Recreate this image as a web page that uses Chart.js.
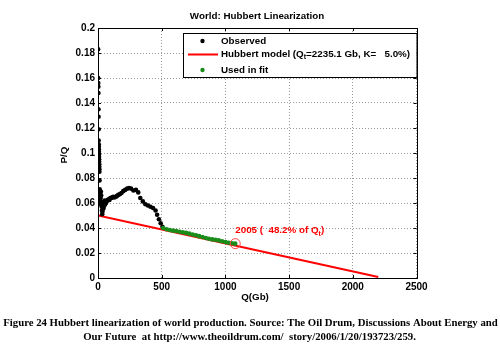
<!DOCTYPE html>
<html>
<head>
<meta charset="utf-8">
<script src="https://cdn.jsdelivr.net/npm/chart.js@4.4.1/dist/chart.umd.min.js"></script>
<style>
  html, body { margin: 0; padding: 0; background: #fff; }
  #wrap { width: 500px; height: 345px; position: relative; }
</style>
</head>
<body>
<div id="wrap"><canvas id="hubbert" width="500" height="345"></canvas></div>
<script>
// fitted model parameters
const qTotal = 2235.1;   // Gb
const kRate = 5.0;       // %
const share2005 = 48.2;  // % of Qt produced by 2005

// observed cumulative production Q (Gb) and P/Q, years before the fit window
const observedQ = [1, 1.5, 2, 2.5, 3, 3.5, 4, 4.5, 5, 5.5, 6, 6.5, 7, 7.5, 8, 8.5, 9, 9.5, 10, 10.5, 11,
  12, 13, 9, 15, 11, 14, 17, 19, 21, 23, 25, 27, 29, 31, 33, 35, 38, 41, 44, 47, 50, 53, 56, 59,
  62, 67, 72, 78, 84, 90, 97, 104, 112, 120, 129, 138, 148, 159, 171, 184, 198, 213, 229,
  244, 260, 278, 298, 316, 332, 352, 372, 392, 412, 432, 452, 464, 478, 492, 506];
const observedPQ = [0.183, 0.160, 0.156, 0.153, 0.148, 0.135, 0.129, 0.119, 0.110, 0.107, 0.105, 0.103, 0.101, 0.099, 0.097, 0.095, 0.093, 0.091, 0.089, 0.087, 0.085,
  0.078, 0.071, 0.069, 0.067, 0.064, 0.062, 0.061, 0.059, 0.064, 0.069, 0.066, 0.061, 0.057, 0.054, 0.051, 0.053, 0.055, 0.058, 0.056, 0.060, 0.058, 0.062, 0.059, 0.061,
  0.060, 0.061, 0.062, 0.0625, 0.063, 0.0625, 0.064, 0.064, 0.0645, 0.065, 0.0645, 0.065, 0.0655, 0.0665, 0.067, 0.068, 0.0695, 0.0705, 0.0715,
  0.072, 0.0715, 0.070, 0.0705, 0.0685, 0.064, 0.0613, 0.059, 0.058, 0.057, 0.056, 0.054, 0.0506, 0.047, 0.0438, 0.041];

// years used in the linear fit
const fitQ = [512, 538, 563, 589, 615, 640, 666, 692, 717, 743, 769, 794, 820, 846, 871, 897, 923, 948, 974, 1000, 1025, 1051, qTotal * share2005 / 100];
const fitPQ = [0.0400, 0.0390, 0.0384, 0.0379, 0.0376, 0.0370, 0.0366, 0.0361, 0.0355, 0.0348, 0.0342, 0.0335, 0.0328, 0.0320, 0.0314, 0.0309, 0.0306, 0.0301, 0.0294, 0.0288, 0.0282, 0.0278, 0.0275];

// model line ends
const modelQ = [0, 2200];
const modelPQ = modelQ.map(q => kRate / 100 * (1 - q / qTotal));

const xTicks = [0, 500, 1000, 1500, 2000, 2500];
const yTicks = [0, 0.02, 0.04, 0.06, 0.08, 0.1, 0.12, 0.14, 0.16, 0.18, 0.2];

const pts = (xs, ys) => xs.map((x, i) => ({ x: x, y: ys[i] }));
const lastFit = fitQ.length - 1;

const sans = 'Liberation Sans, Arial, sans-serif';
const textSize = 9.8;

// box, inward ticks, titles, legend and annotation
const decorations = {
  id: 'decorations',
  afterDraw(chart) {
    const ctx = chart.ctx;
    const a = chart.chartArea;
    const xs = chart.scales.x, ys = chart.scales.y;
    ctx.save();
    ctx.strokeStyle = '#000';
    ctx.lineWidth = 1;
    ctx.strokeRect(Math.round(a.left) + 0.5, Math.round(a.top) + 0.5,
      Math.round(a.right - a.left), Math.round(a.bottom - a.top));
    ctx.beginPath();
    xTicks.forEach(t => {
      const px = Math.round(xs.getPixelForValue(t)) + 0.5;
      ctx.moveTo(px, a.bottom); ctx.lineTo(px, a.bottom - 3);
      ctx.moveTo(px, a.top); ctx.lineTo(px, a.top + 3);
    });
    yTicks.forEach(t => {
      const py = Math.round(ys.getPixelForValue(t)) + 0.5;
      ctx.moveTo(a.left, py); ctx.lineTo(a.left + 3, py);
      ctx.moveTo(a.right, py); ctx.lineTo(a.right - 3, py);
    });
    ctx.stroke();

    // titles
    ctx.fillStyle = '#000';
    ctx.font = 'bold ' + textSize + 'px ' + sans;
    ctx.textAlign = 'center';
    ctx.textBaseline = 'middle';
    ctx.fillText('World: Hubbert Linearization', 257, 16);
    ctx.fillText('Q(Gb)', 255, 297);
    ctx.save();
    ctx.translate(64, 155);
    ctx.rotate(-Math.PI / 2);
    ctx.fillText('P/Q', 0, 0);
    ctx.restore();

    // legend
    const lx = 183, ly = 33, lw = a.right - 183, lh = 44;
    ctx.fillStyle = '#fff';
    ctx.fillRect(lx, ly, lw, lh);
    ctx.strokeStyle = '#000';
    ctx.strokeRect(lx + 0.5, ly + 0.5, lw, lh);
    ctx.fillStyle = '#000';
    ctx.beginPath(); ctx.arc(202.5, 41, 2.2, 0, Math.PI * 2); ctx.fill();
    ctx.fillStyle = '#1a8c1a';
    ctx.beginPath(); ctx.arc(202.5, 70, 2.2, 0, Math.PI * 2); ctx.fill();
    ctx.strokeStyle = '#ff0000';
    ctx.lineWidth = 2;
    ctx.beginPath(); ctx.moveTo(188, 54.5); ctx.lineTo(218, 54.5); ctx.stroke();

    ctx.fillStyle = '#000';
    ctx.textAlign = 'left';
    ctx.font = 'bold ' + textSize + 'px ' + sans;
    ctx.fillText('Observed', 221, 41);
    ctx.fillText('Used in fit', 221, 70);
    let tx = 221;
    const part1 = 'Hubbert model (Q';
    ctx.fillText(part1, tx, 54);
    tx += ctx.measureText(part1).width;
    ctx.font = 'bold 7px ' + sans;
    ctx.fillText('t', tx, 57.5);
    tx += ctx.measureText('t').width;
    ctx.font = 'bold ' + textSize + 'px ' + sans;
    ctx.fillText('=' + qTotal.toFixed(1) + ' Gb, K=   ' + kRate.toFixed(1) + '%)', tx, 54);

    // 2005 annotation
    ctx.fillStyle = '#ff0000';
    const ax = xs.getPixelForValue(fitQ[lastFit]);
    const ay = ys.getPixelForValue(fitPQ[lastFit]) - 13;
    let bx = ax;
    const t1 = '2005 (  ' + share2005.toFixed(1) + '% of Q';
    ctx.fillText(t1, bx, ay);
    bx += ctx.measureText(t1).width;
    ctx.font = 'bold 7px ' + sans;
    ctx.fillText('t', bx, ay + 3.5);
    bx += ctx.measureText('t').width;
    ctx.font = 'bold ' + textSize + 'px ' + sans;
    ctx.fillText(')', bx, ay);

    // caption
    ctx.fillStyle = '#000';
    ctx.textAlign = 'center';
    ctx.font = 'bold 10.75px Liberation Serif, Times New Roman, serif';
    ctx.fillText('Figure 24 Hubbert linearization of world production. Source: The Oil Drum, Discussions About Energy and', 250.5, 323);
    ctx.fillText('Our Future  at http://www.theoildrum.com/  story/2006/1/20/193723/259.', 249.5, 337);
    ctx.restore();
  }
};

new Chart(document.getElementById('hubbert'), {
  type: 'scatter',
  data: {
    datasets: [
      {
        type: 'line',
        data: pts(modelQ, modelPQ),
        borderColor: '#ff0000',
        borderWidth: 2,
        pointRadius: 0,
        fill: false,
        order: 3
      },
      {
        data: pts(observedQ, observedPQ),
        backgroundColor: '#000',
        borderWidth: 0,
        pointRadius: 2.3,
        order: 2
      },
      {
        data: pts(fitQ, fitPQ),
        backgroundColor: '#1a8c1a',
        borderWidth: 0,
        pointRadius: 2.3,
        order: 1
      },
      {
        data: [{ x: fitQ[lastFit], y: fitPQ[lastFit] }],
        backgroundColor: 'rgba(0,0,0,0)',
        borderColor: '#ff4444',
        borderWidth: 1,
        pointRadius: 5,
        order: 0
      }
    ]
  },
  options: {
    responsive: false,
    animation: false,
    devicePixelRatio: 1,
    layout: { padding: { top: 28, right: 83.5, left: 0, bottom: 0 } },
    plugins: { legend: { display: false }, title: { display: false }, tooltip: { enabled: false } },
    scales: {
      x: {
        type: 'linear',
        min: 0, max: 2500,
        afterFit: s => { s.height = 67; },
        afterBuildTicks: s => { s.ticks = xTicks.map(v => ({ value: v })); },
        ticks: {
          color: '#000',
          padding: 3,
          maxRotation: 0,
          font: { family: sans, size: 10, weight: 'bold' },
          callback: v => String(v)
        },
        grid: { color: '#999', drawTicks: false, lineWidth: 1 },
        border: { display: false, dash: [1, 2] }
      },
      y: {
        type: 'linear',
        min: 0, max: 0.2,
        afterFit: s => { s.width = 98; },
        afterBuildTicks: s => { s.ticks = yTicks.map(v => ({ value: v })); },
        ticks: {
          color: '#000',
          padding: 3,
          font: { family: sans, size: 10, weight: 'bold' },
          callback: v => String(+v.toFixed(2))
        },
        grid: { color: '#999', drawTicks: false, lineWidth: 1 },
        border: { display: false, dash: [1, 2] }
      }
    }
  },
  plugins: [decorations]
});
</script>
</body>
</html>
